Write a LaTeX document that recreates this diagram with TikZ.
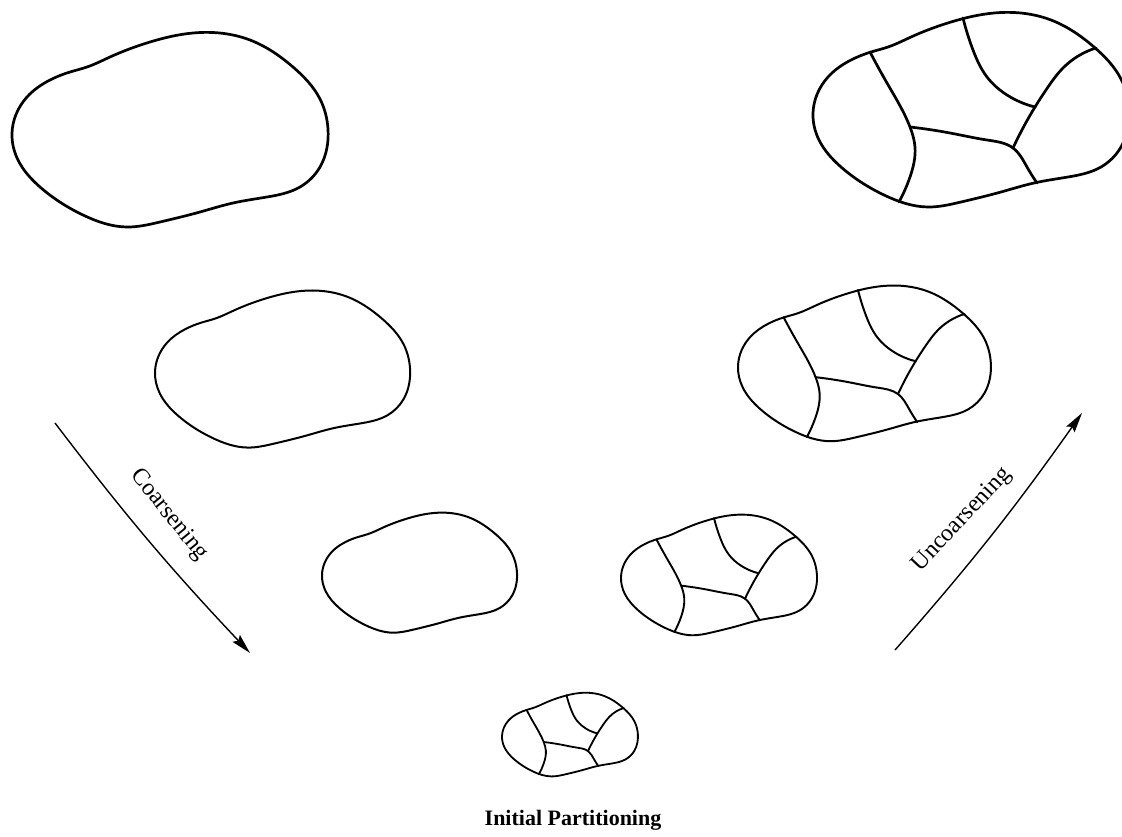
\documentclass[tikz,border=0pt]{standalone}
\usepackage{fontspec}
\setmainfont{Liberation Serif}
\usetikzlibrary{arrows.meta,hobby}
\newcommand\blobshape{(0,100) .. (15,64) .. (38,47) .. (58,39) .. (75,34) .. (98,24) .. (138,9) .. (181,0) .. (238,7) .. (281,34) .. (308,66) .. (316,96) .. (308,134) .. (288,154) .. (255,164) .. (221,170) .. (188,179) .. (148,189) .. (115,194) .. (71,182) .. (28,154) .. (6,127)}
\newcommand\drawblob[4]{%
  \begin{scope}[shift={(#1,#2)},scale=#3]
    \draw[line width=#4, use Hobby shortcut, closed=true] \blobshape;
  \end{scope}}
\newcommand\drawpartblob[4]{%
  \begin{scope}[shift={(#1,#2)},scale=#3]
    \draw[line width=#4, use Hobby shortcut, closed=true] \blobshape;
    \draw[line width=#4, line cap=round, use Hobby shortcut] (57,39) .. (74,70) .. (97,114) .. (102,134) .. (97,164) .. (86,189);
    \draw[line width=#4, line cap=round, use Hobby shortcut] (97,114) .. (137,120) .. (174,127) .. (200,135) .. (214,154) .. (224,170);
    \draw[line width=#4, line cap=round, use Hobby shortcut] (150,5) .. (160,37) .. (174,64) .. (194,82) .. (222,94);
    \draw[line width=#4, line cap=round, use Hobby shortcut] (283,35) .. (250,55) .. (235,74) .. (222,94) .. (200,135);
  \end{scope}}
\tikzset{
  label/.style={font=\fontsize{24}{26}\selectfont, inner sep=0pt},
  flow/.style={line width=1.4pt, -{Stealth[length=20pt,width=10pt,inset=3pt]}},
}
\begin{document}
\begin{tikzpicture}[x=1pt,y=-1pt]
\useasboundingbox[fill=white] (0,0) rectangle (1122,836);
\drawblob{12}{33}{1}{2.7pt}
\drawpartblob{813}{13}{1}{2.7pt}
\drawblob{155}{291}{0.807}{2pt}
\drawpartblob{738}{286}{0.80}{2pt}
\drawblob{322}{513}{0.617}{2pt}
\drawpartblob{621}{515}{0.62}{1.9pt}
\drawpartblob{502}{693}{0.43}{1.8pt}
\coordinate (cs) at (55,423);
\coordinate (ce) at (250,653);
\coordinate (us) at (895,650);
\coordinate (ue) at (1082,413);
\draw[flow] (cs) to[bend right=3] (ce);
\draw[flow] (us) to[bend right=3] (ue);
\node[label, rotate=-51] (coarse) at (169,515) {Coarsening};
\node[label, rotate=47] (uncoarse) at (962,520) {Uncoarsening};
\node[label, font=\fontsize{22}{26}\selectfont\bfseries, anchor=base] (init) at (573,825) {Initial Partitioning};
\end{tikzpicture}
\end{document}
